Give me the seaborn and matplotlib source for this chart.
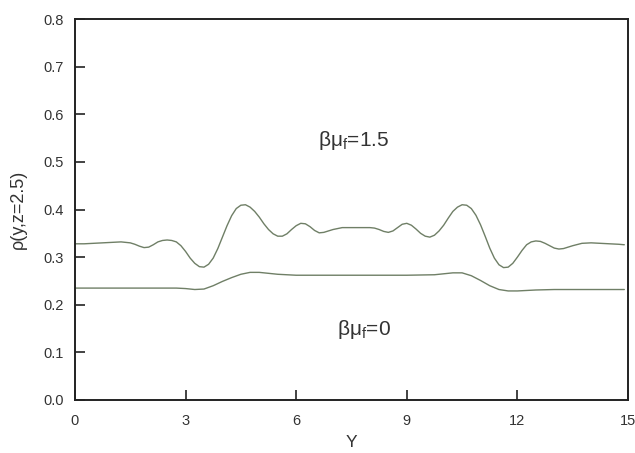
import numpy as np
import pandas as pd
import matplotlib
matplotlib.use("Agg")
import matplotlib.pyplot as plt
import seaborn as sns

# ---- data ----
y_upper = [0.0, 0.25, 0.5, 0.75, 1.0, 1.25, 1.5, 1.625, 1.75, 1.875, 2.0, 2.125,
           2.25, 2.375, 2.5, 2.625, 2.75, 2.875, 3.0, 3.125, 3.25, 3.375, 3.5,
           3.625, 3.75, 3.875, 4.0, 4.125, 4.25, 4.375, 4.5, 4.625, 4.75, 4.875,
           5.0, 5.125, 5.25, 5.375, 5.5, 5.625, 5.75, 5.875, 6.0, 6.125, 6.25,
           6.375, 6.5, 6.625, 6.75, 6.875, 7.0, 7.25, 7.5, 7.75, 8.0, 8.125,
           8.25, 8.375, 8.5, 8.625, 8.75, 8.875, 9.0, 9.125, 9.25, 9.375, 9.5,
           9.625, 9.75, 9.875, 10.0, 10.125, 10.25, 10.375, 10.5, 10.625, 10.75,
           10.875, 11.0, 11.125, 11.25, 11.375, 11.5, 11.625, 11.75, 11.875,
           12.0, 12.125, 12.25, 12.375, 12.5, 12.625, 12.75, 12.875, 13.0,
           13.125, 13.25, 13.5, 13.75, 14.0, 14.25, 14.5, 14.75, 14.9]
rho_upper = [0.328, 0.328, 0.329, 0.330, 0.331, 0.332, 0.330, 0.327, 0.323, 0.320,
             0.321, 0.326, 0.332, 0.335, 0.336, 0.335, 0.332, 0.324, 0.312, 0.298,
             0.287, 0.280, 0.279, 0.285, 0.298, 0.318, 0.342, 0.366, 0.387, 0.402,
             0.409, 0.410, 0.405, 0.396, 0.384, 0.370, 0.358, 0.349, 0.344, 0.344,
             0.349, 0.358, 0.366, 0.371, 0.370, 0.364, 0.356, 0.351, 0.352, 0.355,
             0.358, 0.362, 0.362, 0.362, 0.362, 0.361, 0.358, 0.354, 0.352, 0.355,
             0.362, 0.369, 0.371, 0.367, 0.359, 0.350, 0.344, 0.342, 0.346, 0.355,
             0.367, 0.382, 0.396, 0.405, 0.410, 0.409, 0.402, 0.388, 0.368, 0.344,
             0.319, 0.298, 0.284, 0.278, 0.279, 0.287, 0.300, 0.314, 0.326, 0.332,
             0.334, 0.333, 0.329, 0.324, 0.319, 0.317, 0.318, 0.324, 0.329, 0.330,
             0.329, 0.328, 0.327, 0.326]

y_lower = [0.0, 0.5, 1.0, 1.5, 2.0, 2.5, 2.75, 3.0, 3.25, 3.5, 3.75, 4.0, 4.25,
           4.5, 4.75, 5.0, 5.25, 5.5, 5.75, 6.0, 7.0, 8.0, 9.0, 9.75, 10.0,
           10.25, 10.5, 10.75, 11.0, 11.25, 11.5, 11.75, 12.0, 12.5, 13.0, 14.0,
           14.9]
rho_lower = [0.235, 0.235, 0.235, 0.235, 0.235, 0.235, 0.235, 0.234, 0.232, 0.233,
             0.240, 0.249, 0.257, 0.264, 0.268, 0.268, 0.266, 0.264, 0.263, 0.262,
             0.262, 0.262, 0.262, 0.263, 0.265, 0.267, 0.267, 0.261, 0.251, 0.240,
             0.232, 0.229, 0.229, 0.231, 0.232, 0.232, 0.232]

x_ticks = [0, 3, 6, 9, 12, 15]
y_ticks = [0.0, 0.1, 0.2, 0.3, 0.4, 0.5, 0.6, 0.7, 0.8]
label_upper = r"βμ$_{\mathrm{f}}$=1.5"
label_lower = r"βμ$_{\mathrm{f}}$=0"

# ---- style ----
sns.set_style("ticks")
plt.rcParams["font.family"] = ["Liberation Sans", "DejaVu Sans"]
plt.rcParams["mathtext.fontset"] = "custom"
plt.rcParams["mathtext.rm"] = "Liberation Sans"
plt.rcParams["mathtext.it"] = "Liberation Sans:italic"

text_col = "#333333"
line_col = "#6f7f66"

df_u = pd.DataFrame({"Y": y_upper, "rho": rho_upper})
df_l = pd.DataFrame({"Y": y_lower, "rho": rho_lower})

fig = plt.figure(figsize=(6.35, 4.53), dpi=100)
ax = fig.add_axes([0.118, 0.117, 0.871, 0.841])

sns.lineplot(data=df_u, x="Y", y="rho", ax=ax, color=line_col, linewidth=1.0)
sns.lineplot(data=df_l, x="Y", y="rho", ax=ax, color=line_col, linewidth=1.0)

ax.set_xlim(0, 15)
ax.set_ylim(0, 0.8)
ax.set_xticks(x_ticks)
ax.set_yticks(y_ticks)
ax.set_xticklabels([str(t) for t in x_ticks])
ax.set_yticklabels([f"{t:.1f}" for t in y_ticks])
ax.tick_params(axis="both", which="major", direction="in", length=7, width=1.2,
               color="#222222", labelcolor=text_col, labelsize=10.5,
               bottom=True, left=True, top=False, right=False)
ax.tick_params(axis="y", pad=8)
ax.tick_params(axis="x", pad=10)

for s in ax.spines.values():
    s.set_visible(True)
    s.set_color("#222222")
    s.set_linewidth(1.4)

ax.set_xlabel("Y", fontsize=12.5, color=text_col, labelpad=5)
ax.set_ylabel("ρ(y,z=2.5)", fontsize=13, color=text_col, labelpad=12)

ax.text(7.55, 0.545, label_upper, fontsize=15, color=text_col, ha="center", va="center")
ax.text(7.83, 0.148, label_lower, fontsize=15, color=text_col, ha="center", va="center")

fig.savefig("out.png", dpi=100)
